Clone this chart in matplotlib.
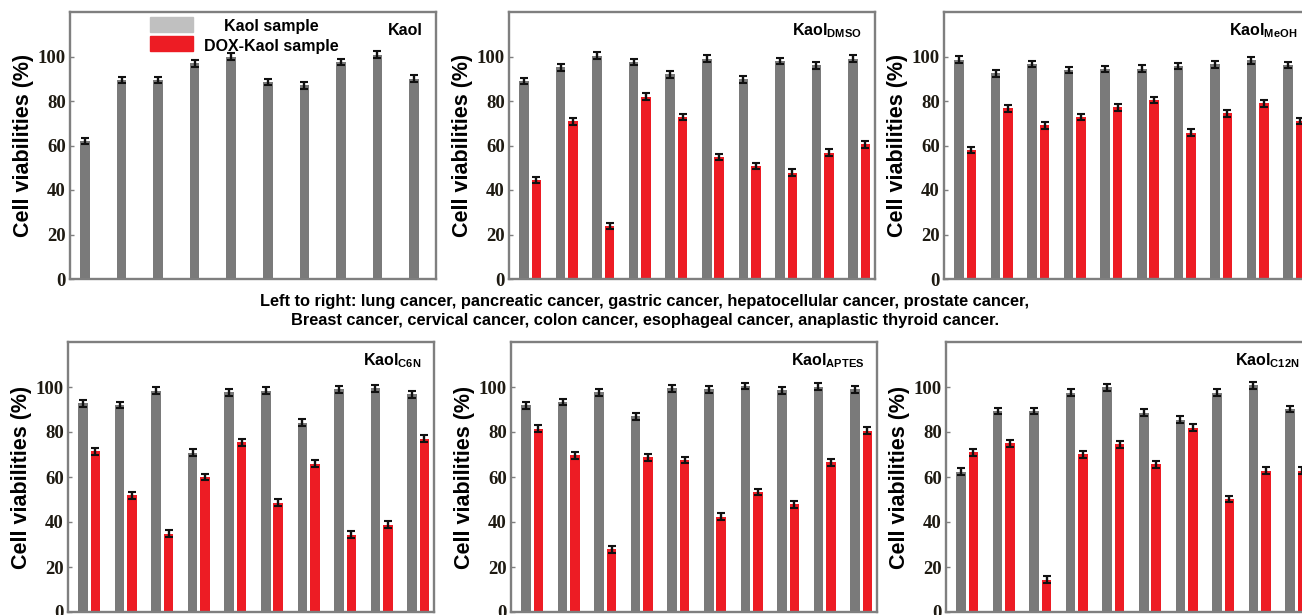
import matplotlib
matplotlib.use("Agg")
import matplotlib.pyplot as plt
from matplotlib.patches import Rectangle
import numpy as np

plt.rcParams['mathtext.fontset'] = 'custom'
plt.rcParams['mathtext.bf'] = 'Liberation Sans:bold'
plt.rcParams['mathtext.rm'] = 'Liberation Sans:bold'

cancers = ["lung cancer", "pancreatic cancer", "gastric cancer", "hepatocellular cancer",
           "prostate cancer", "Breast cancer", "cervical cancer", "colon cancer",
           "esophageal cancer", "anaplastic thyroid cancer"]

kaol_gray = [62, 89.5, 89.5, 97, 100, 88.5, 87, 97.5, 100.8, 90]

dmso_gray = [89, 95.2, 100.3, 97.5, 92, 99, 89.8, 98, 96, 99.1]
dmso_red = [44.5, 70.8, 23.8, 82, 72.8, 54.8, 50.8, 47.8, 56.8, 60.6]

meoh_gray = [98.6, 92.5, 96.7, 94, 94.4, 94.6, 95.8, 96.5, 98.3, 96.2]
meoh_red = [58, 76.7, 69, 72.8, 77.2, 80.4, 65.8, 74.5, 78.9, 71]

c6n_gray = [92.8, 92, 98.3, 70.8, 97.7, 98.3, 84.2, 99, 99.5, 96.8]
c6n_red = [71.4, 51.8, 34.8, 60, 75.5, 48.6, 66, 34.4, 38.8, 77]

aptes_gray = [91.8, 93.3, 97.6, 87, 99.4, 99, 100.5, 98.5, 100.2, 98.9]
aptes_red = [81.5, 69.6, 27.8, 68.8, 67.6, 42.3, 53.3, 47.8, 66.5, 80.6]

c12n_gray = [62.3, 89.3, 89.3, 97.4, 99.8, 88.6, 85.5, 97.5, 100.7, 90.2]
c12n_red = [70.9, 74.9, 14.3, 70.1, 74.5, 65.6, 81.9, 50.2, 62.8, 62.8]

err = [1.5] * 10

labels = ["Kaol", r"Kaol$_{\mathbf{DMSO}}$", r"Kaol$_{\mathbf{MeOH}}$",
          r"Kaol$_{\mathbf{C6N}}$", r"Kaol$_{\mathbf{APTES}}$", r"Kaol$_{\mathbf{C12N}}$"]
yticks = [0, 20, 40, 60, 80, 100]
legend_labels = ["Kaol sample", "DOX-Kaol sample"]

GRAY = '#7a7a7a'
RED = '#ed1c24'
FRAME = '#7f7f7f'

W, H = 1302, 615
fig = plt.figure(figsize=(W / 100, H / 100), dpi=100)

def px_axes(left, top, right, bottom):
    return fig.add_axes([left / W, 1 - bottom / H, (right - left) / W, (bottom - top) / H])

axes_boxes = [
    (70, 12, 436, 279),
    (509, 12, 875, 279),
    (944, 12, 1310, 279),
    (68, 342, 434, 612),
    (511, 342, 877, 612),
    (946, 342, 1312, 612),
]

data = [
    (kaol_gray, None),
    (dmso_gray, dmso_red),
    (meoh_gray, meoh_red),
    (c6n_gray, c6n_red),
    (aptes_gray, aptes_red),
    (c12n_gray, c12n_red),
]

x = np.arange(len(cancers))
bw = 0.26
off = 0.34
ekw = dict(elinewidth=1.7, capthick=1.5, ecolor='#111111')

for box, (g, r), lab in zip(axes_boxes, data, labels):
    ax = px_axes(*box)
    ax.bar(x, g, width=bw, color=GRAY, yerr=err, capsize=2.9, error_kw=ekw, zorder=2)
    if r is not None:
        ax.bar(x + off, r, width=bw, color=RED, yerr=err, capsize=2.9, error_kw=ekw, zorder=2)
    ax.set_xlim(-0.41, 9.6)
    ax.set_ylim(0, 120)
    ax.set_yticks(yticks)
    ax.set_xticks([])
    ax.tick_params(axis='y', direction='in', length=3, width=1, color=FRAME, pad=3)
    for t in ax.get_yticklabels():
        t.set_fontfamily('Liberation Serif')
        t.set_fontweight('bold')
        t.set_fontsize(13.5)
        t.set_color('#1e1a12')
    for s in ax.spines.values():
        s.set_color(FRAME)
        s.set_linewidth(1.7)
    ax.set_ylabel("Cell viabilities (%)", fontfamily='Liberation Sans', fontweight='bold',
                  fontsize=15.5, labelpad=3)
    ax.text(0.965, 0.93, lab, transform=ax.transAxes, ha='right', va='center',
            fontfamily='Liberation Sans', fontweight='bold', fontsize=11.5)

ax0 = fig.axes[0]
ax0.add_patch(Rectangle((0.219, 0.925), 0.117, 0.056, transform=ax0.transAxes,
                        color='#c0c0c0', clip_on=False, zorder=3))
ax0.add_patch(Rectangle((0.219, 0.854), 0.117, 0.056, transform=ax0.transAxes,
                        color=RED, clip_on=False, zorder=3))
ax0.text(0.549, 0.944, legend_labels[0], transform=ax0.transAxes, ha='center', va='center',
         fontfamily='Liberation Sans', fontweight='bold', fontsize=11.5)
ax0.text(0.549, 0.869, legend_labels[1], transform=ax0.transAxes, ha='center', va='center',
         fontfamily='Liberation Sans', fontweight='bold', fontsize=11.5)

line1 = "Left to right: " + ", ".join(cancers[:5]) + ","
line2 = ", ".join(cancers[5:]) + "."
fig.text(645 / W, 1 - 301 / H, line1, ha='center', va='center',
         fontfamily=['Liberation Sans Narrow', 'Liberation Sans'], fontweight='bold', fontsize=11.8)
fig.text(645 / W, 1 - 321 / H, line2, ha='center', va='center',
         fontfamily=['Liberation Sans Narrow', 'Liberation Sans'], fontweight='bold', fontsize=11.8)

fig.savefig("out.png", dpi=100)
